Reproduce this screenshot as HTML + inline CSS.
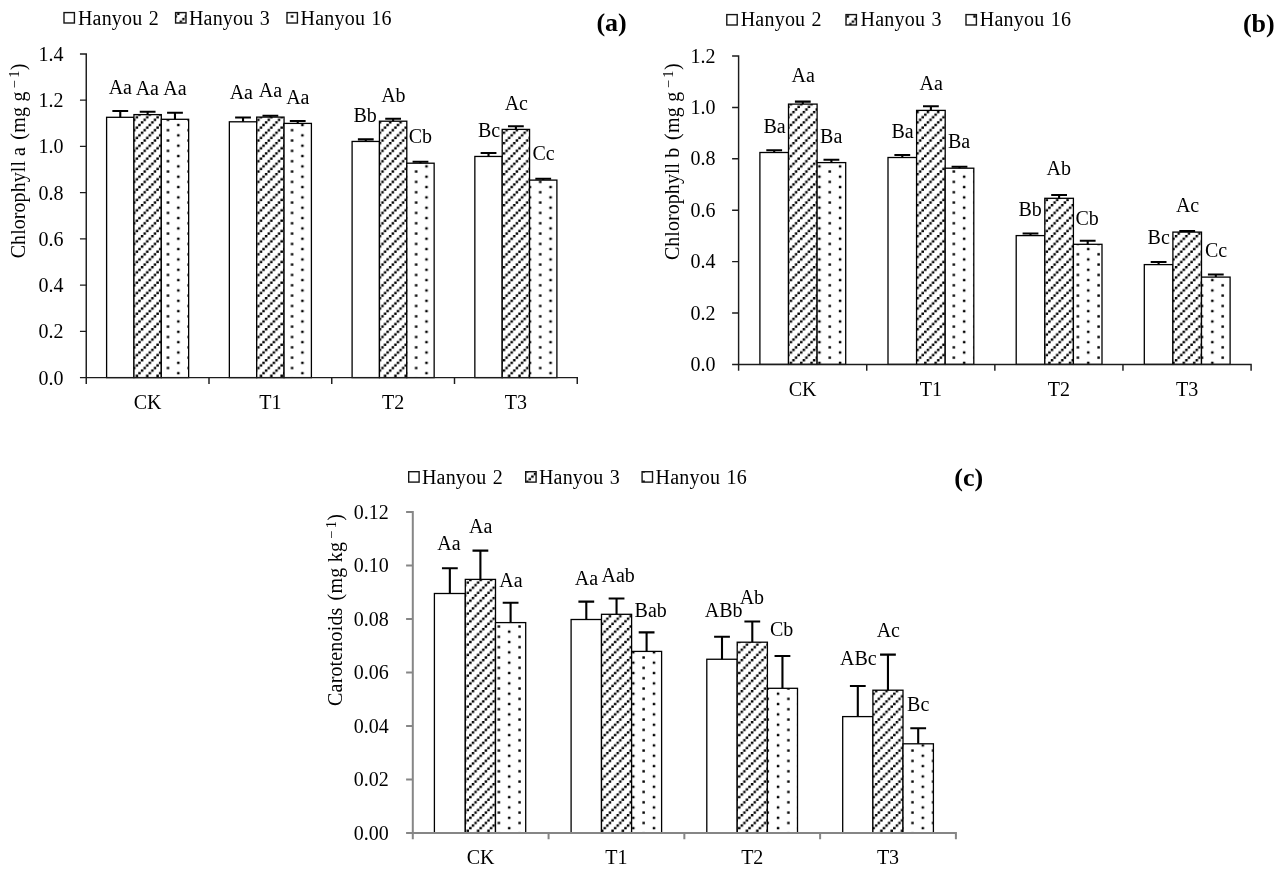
<!DOCTYPE html>
<html lang="en"><head><meta charset="utf-8"><title>Pigment contents of three Hanyou cultivars</title>
<style>html,body{margin:0;padding:0;background:#fff}body{width:1280px;height:870px;overflow:hidden}svg{display:block;position:absolute;left:0;top:0}svg text{font-family:'Liberation Serif', 'DejaVu Serif', serif;font-size:20px;fill:#000}</style></head><body>
<svg width="1280" height="870" viewBox="0 0 1280 870">
<defs>
<pattern id="hatch" patternUnits="userSpaceOnUse" x="0" y="0" width="10.34" height="10.34">
<rect x="0" y="0" width="10.34" height="10.34" fill="#fff"/>
<g fill="#000">
<rect x="3.85" y="-0.25" width="2.45" height="2.45" rx="0.1"/>
<rect x="3.85" y="10.1" width="2.45" height="2.45" rx="0.1"/>
<rect x="1.27" y="2.34" width="2.45" height="2.45" rx="0.1"/>
<rect x="-1.31" y="4.93" width="2.45" height="2.45" rx="0.1"/>
<rect x="9.03" y="4.93" width="2.45" height="2.45" rx="0.1"/>
<rect x="6.44" y="-2.83" width="2.45" height="2.45" rx="0.1"/>
<rect x="6.44" y="7.51" width="2.45" height="2.45" rx="0.1"/>
</g></pattern>
<pattern id="dots" patternUnits="userSpaceOnUse" x="0" y="0" width="20.68" height="10.34">
<rect x="0" y="0" width="20.68" height="10.34" fill="#fff"/>
<g fill="#000">
<rect x="1.31" y="4.9" width="2.5" height="2.5" rx="0.25"/>
<rect x="11.65" y="-0.27" width="2.5" height="2.5" rx="0.25"/>
<rect x="11.65" y="10.07" width="2.5" height="2.5" rx="0.25"/>
</g></pattern>
</defs>
<rect x="0" y="0" width="1280" height="870" fill="#fff"/>
<g id="chart-a">
<g stroke="#000" stroke-width="1.3">
<rect x="106.6" y="117.3" width="27.35" height="260.3" fill="#fff"/>
<rect x="133.95" y="114.6" width="27.35" height="263" fill="url(#hatch)"/>
<rect x="161.3" y="119.3" width="27.35" height="258.3" fill="url(#dots)"/>
<rect x="229.35" y="121.8" width="27.35" height="255.8" fill="#fff"/>
<rect x="256.7" y="117.1" width="27.35" height="260.5" fill="url(#hatch)"/>
<rect x="284.05" y="123.4" width="27.35" height="254.2" fill="url(#dots)"/>
<rect x="352.1" y="141.45" width="27.35" height="236.15" fill="#fff"/>
<rect x="379.45" y="121.2" width="27.35" height="256.4" fill="url(#hatch)"/>
<rect x="406.8" y="163.2" width="27.35" height="214.4" fill="url(#dots)"/>
<rect x="474.85" y="156.45" width="27.35" height="221.15" fill="#fff"/>
<rect x="502.2" y="129.4" width="27.35" height="248.2" fill="url(#hatch)"/>
<rect x="529.55" y="180.1" width="27.35" height="197.5" fill="url(#dots)"/>
</g>
<g stroke="#000" stroke-width="2.1" fill="none">
<path d="M112.37 111H128.17M120.27 111V117.3"/>
<path d="M139.72 111.8H155.53M147.62 111.8V114.6"/>
<path d="M167.07 112.8H182.88M174.97 112.8V119.3"/>
<path d="M235.12 117.5H250.93M243.03 117.5V121.8"/>
<path d="M262.48 115.7H278.27M270.38 115.7V117.1"/>
<path d="M289.83 121H305.62M297.73 121V123.4"/>
<path d="M357.88 139.4H373.68M365.78 139.4V141.45"/>
<path d="M385.23 118.8H401.02M393.12 118.8V121.2"/>
<path d="M412.58 161.8H428.38M420.48 161.8V163.2"/>
<path d="M480.63 153H496.43M488.53 153V156.45"/>
<path d="M507.98 126.3H523.77M515.88 126.3V129.4"/>
<path d="M535.33 178.8H551.12M543.23 178.8V180.1"/>
</g>
<path d="M86.25 53.17V383.9M79.95 377.6H577.98M79.95 331.36H86.25M79.95 285.11H86.25M79.95 238.87H86.25M79.95 192.63H86.25M79.95 146.39H86.25M79.95 100.14H86.25M79.95 53.9H86.25M209 377.6V383.9M331.75 377.6V383.9M454.5 377.6V383.9M577.25 377.6V383.9" stroke="#1c1c1c" stroke-width="1.45" fill="none"/>
<g text-anchor="end">
<text x="63.6" y="384.6">0.0</text>
<text x="63.6" y="338.36">0.2</text>
<text x="63.6" y="292.11">0.4</text>
<text x="63.6" y="245.87">0.6</text>
<text x="63.6" y="199.63">0.8</text>
<text x="63.6" y="153.39">1.0</text>
<text x="63.6" y="107.14">1.2</text>
<text x="63.6" y="60.9">1.4</text>
</g>
<g text-anchor="middle">
<text x="147.62" y="408.9">CK</text>
<text x="270.38" y="408.9">T1</text>
<text x="393.12" y="408.9">T2</text>
<text x="515.88" y="408.9">T3</text>
</g>
<g text-anchor="middle">
<text x="120.3" y="93.5">Aa</text>
<text x="147.3" y="94.6">Aa</text>
<text x="175" y="95">Aa</text>
<text x="241.3" y="98.5">Aa</text>
<text x="270.4" y="97">Aa</text>
<text x="297.8" y="103.6">Aa</text>
<text x="365.2" y="121.5">Bb</text>
<text x="393.4" y="101.5">Ab</text>
<text x="420.3" y="142.7">Cb</text>
<text x="489" y="136.7">Bc</text>
<text x="516.3" y="109.8">Ac</text>
<text x="543.6" y="160.2">Cc</text>
</g>
<rect x="64" y="12.6" width="10.4" height="10.4" fill="#fff" stroke="#151515" stroke-width="1.4"/>
<text x="77.9" y="24.9" style="letter-spacing:0.22px;word-spacing:1px">Hanyou 2</text>
<rect x="175.6" y="12.6" width="10.4" height="10.4" fill="url(#hatch)" stroke="#151515" stroke-width="1.4"/>
<text x="188.9" y="24.9" style="letter-spacing:0.22px;word-spacing:1px">Hanyou 3</text>
<rect x="287" y="12.6" width="10.4" height="10.4" fill="url(#dots)" stroke="#151515" stroke-width="1.4"/>
<text x="300.5" y="24.9" style="letter-spacing:0.22px;word-spacing:1px">Hanyou 16</text>
<text x="596.4" y="31" style="font-size:26px;font-weight:bold">(a)</text>
<g transform="translate(24.6 258.6) rotate(-90)">
<text x="0.3" y="0" style="letter-spacing:0.06px">Chlorophyll a</text>
<text x="118.85" y="0" style="letter-spacing:0.25px">(mg g</text>
<text x="170.2" y="0" style="font-size:14.5px;letter-spacing:2.4px" dy="-5.7">−1</text>
<text x="188.4" y="0">)</text>
</g>
</g>
<g id="chart-b">
<g stroke="#000" stroke-width="1.3">
<rect x="759.9" y="152.5" width="28.6" height="211.9" fill="#fff"/>
<rect x="788.5" y="104.1" width="28.6" height="260.3" fill="url(#hatch)"/>
<rect x="817.1" y="162.6" width="28.6" height="201.8" fill="url(#dots)"/>
<rect x="888" y="157.5" width="28.6" height="206.9" fill="#fff"/>
<rect x="916.6" y="110.4" width="28.6" height="254" fill="url(#hatch)"/>
<rect x="945.2" y="168.2" width="28.6" height="196.2" fill="url(#dots)"/>
<rect x="1016.2" y="235.6" width="28.6" height="128.8" fill="#fff"/>
<rect x="1044.8" y="198.3" width="28.6" height="166.1" fill="url(#hatch)"/>
<rect x="1073.4" y="244.3" width="28.6" height="120.1" fill="url(#dots)"/>
<rect x="1144.3" y="264.6" width="28.6" height="99.8" fill="#fff"/>
<rect x="1172.9" y="232.1" width="28.6" height="132.3" fill="url(#hatch)"/>
<rect x="1201.5" y="277.1" width="28.6" height="87.3" fill="url(#dots)"/>
</g>
<g stroke="#000" stroke-width="2.1" fill="none">
<path d="M766.3 150.2H782.1M774.2 150.2V152.5"/>
<path d="M794.9 101.65H810.7M802.8 101.65V104.1"/>
<path d="M823.5 159.8H839.3M831.4 159.8V162.6"/>
<path d="M894.4 155H910.2M902.3 155V157.5"/>
<path d="M923 106.2H938.8M930.9 106.2V110.4"/>
<path d="M951.6 166.7H967.4M959.5 166.7V168.2"/>
<path d="M1022.6 233.5H1038.4M1030.5 233.5V235.6"/>
<path d="M1051.2 195.05H1067M1059.1 195.05V198.3"/>
<path d="M1079.8 240.7H1095.6M1087.7 240.7V244.3"/>
<path d="M1150.7 262H1166.5M1158.6 262V264.6"/>
<path d="M1179.3 231H1195.1M1187.2 231V232.1"/>
<path d="M1207.9 274.5H1223.7M1215.8 274.5V277.1"/>
</g>
<path d="M738.6 55.27V370.8M732.1 364.4H1251.82M732.1 313H738.6M732.1 261.6H738.6M732.1 210.2H738.6M732.1 158.8H738.6M732.1 107.4H738.6M732.1 56H738.6M866.73 364.4V370.8M994.85 364.4V370.8M1122.97 364.4V370.8M1251.1 364.4V370.8" stroke="#1c1c1c" stroke-width="1.45" fill="none"/>
<g text-anchor="end">
<text x="715.6" y="370.9">0.0</text>
<text x="715.6" y="319.5">0.2</text>
<text x="715.6" y="268.1">0.4</text>
<text x="715.6" y="216.7">0.6</text>
<text x="715.6" y="165.3">0.8</text>
<text x="715.6" y="113.9">1.0</text>
<text x="715.6" y="62.5">1.2</text>
</g>
<g text-anchor="middle">
<text x="802.66" y="395.5">CK</text>
<text x="930.79" y="395.5">T1</text>
<text x="1058.91" y="395.5">T2</text>
<text x="1187.04" y="395.5">T3</text>
</g>
<g text-anchor="middle">
<text x="774.5" y="132.5">Ba</text>
<text x="803.2" y="82.4">Aa</text>
<text x="831.2" y="142.6">Ba</text>
<text x="902.6" y="137.5">Ba</text>
<text x="931.2" y="90.4">Aa</text>
<text x="959.1" y="147.6">Ba</text>
<text x="1030.1" y="215.5">Bb</text>
<text x="1058.7" y="174.7">Ab</text>
<text x="1087.2" y="224.6">Cb</text>
<text x="1158.7" y="244.2">Bc</text>
<text x="1187.6" y="211.9">Ac</text>
<text x="1216" y="257.1">Cc</text>
</g>
<rect x="726.8" y="14.6" width="10.4" height="10.4" fill="#fff" stroke="#151515" stroke-width="1.4"/>
<text x="740.7" y="25.8" style="letter-spacing:0.22px;word-spacing:1px">Hanyou 2</text>
<rect x="846" y="14.6" width="10.4" height="10.4" fill="url(#hatch)" stroke="#151515" stroke-width="1.4"/>
<text x="860.6" y="25.8" style="letter-spacing:0.22px;word-spacing:1px">Hanyou 3</text>
<rect x="966" y="14.6" width="10.4" height="10.4" fill="url(#dots)" stroke="#151515" stroke-width="1.4"/>
<text x="979.8" y="25.8" style="letter-spacing:0.22px;word-spacing:1px">Hanyou 16</text>
<text x="1242.9" y="32.2" style="font-size:26px;font-weight:bold">(b)</text>
<g transform="translate(678.8 260.4) rotate(-90)">
<text x="0.3" y="0" style="letter-spacing:0.06px">Chlorophyll b</text>
<text x="120.5" y="0" style="letter-spacing:0.25px">(mg g</text>
<text x="172.1" y="0" style="font-size:14.5px;letter-spacing:2.4px" dy="-5.7">−1</text>
<text x="190.3" y="0">)</text>
</g>
</g>
<g id="chart-c">
<g stroke="#000" stroke-width="1.3">
<rect x="434.4" y="593.5" width="30.9" height="239.5" fill="#fff"/>
<rect x="465.3" y="579.4" width="30.2" height="253.6" fill="url(#hatch)"/>
<rect x="495.5" y="622.6" width="30.2" height="210.4" fill="url(#dots)"/>
<rect x="571.1" y="619.5" width="30.4" height="213.5" fill="#fff"/>
<rect x="601.5" y="614.3" width="30.1" height="218.7" fill="url(#hatch)"/>
<rect x="631.6" y="651.4" width="30" height="181.6" fill="url(#dots)"/>
<rect x="706.8" y="659.25" width="30.4" height="173.75" fill="#fff"/>
<rect x="737.2" y="642.2" width="30.2" height="190.8" fill="url(#hatch)"/>
<rect x="767.4" y="688.3" width="30.1" height="144.7" fill="url(#dots)"/>
<rect x="842.7" y="716.6" width="30.2" height="116.4" fill="#fff"/>
<rect x="872.9" y="690.2" width="30.1" height="142.8" fill="url(#hatch)"/>
<rect x="903" y="743.8" width="30.4" height="89.2" fill="url(#dots)"/>
</g>
<g stroke="#000" stroke-width="2.1" fill="none">
<path d="M441.95 568.2H457.75M449.85 568.2V593.5"/>
<path d="M472.5 550.6H488.3M480.4 550.6V579.4"/>
<path d="M502.7 602.8H518.5M510.6 602.8V622.6"/>
<path d="M578.4 601.65H594.2M586.3 601.65V619.5"/>
<path d="M608.65 598.5H624.45M616.55 598.5V614.3"/>
<path d="M638.7 632.4H654.5M646.6 632.4V651.4"/>
<path d="M714.1 636.7H729.9M722 636.7V659.25"/>
<path d="M744.4 621.5H760.2M752.3 621.5V642.2"/>
<path d="M774.55 656H790.35M782.45 656V688.3"/>
<path d="M849.9 686H865.7M857.8 686V716.6"/>
<path d="M880.05 654.6H895.85M887.95 654.6V690.2"/>
<path d="M910.3 728.3H926.1M918.2 728.3V743.8"/>
</g>
<path d="M412.8 511V839.3M406.1 833H956.9M406.1 779.5H412.8M406.1 726H412.8M406.1 672.5H412.8M406.1 619H412.8M406.1 565.5H412.8M406.1 512H412.8M548.58 833V839.3M684.35 833V839.3M820.12 833V839.3M955.9 833V839.3" stroke="#868686" stroke-width="2" fill="none"/>
<g text-anchor="end">
<text x="388.7" y="839.5">0.00</text>
<text x="388.7" y="786">0.02</text>
<text x="388.7" y="732.5">0.04</text>
<text x="388.7" y="679">0.06</text>
<text x="388.7" y="625.5">0.08</text>
<text x="388.7" y="572">0.10</text>
<text x="388.7" y="518.5">0.12</text>
</g>
<g text-anchor="middle">
<text x="480.69" y="863.6">CK</text>
<text x="616.46" y="863.6">T1</text>
<text x="752.24" y="863.6">T2</text>
<text x="888.01" y="863.6">T3</text>
</g>
<g text-anchor="middle">
<text x="449" y="549.8">Aa</text>
<text x="480.7" y="532.7">Aa</text>
<text x="511" y="586.6">Aa</text>
<text x="586.4" y="585.3">Aa</text>
<text x="618.2" y="582.1">Aab</text>
<text x="650.7" y="617.1">Bab</text>
<text x="723.6" y="617.2">ABb</text>
<text x="751.9" y="604.3">Ab</text>
<text x="781.7" y="636.4">Cb</text>
<text x="858.3" y="664.5">ABc</text>
<text x="888.3" y="636.5">Ac</text>
<text x="918.2" y="711.1">Bc</text>
</g>
<rect x="408.7" y="471.7" width="10.4" height="10.4" fill="#fff" stroke="#151515" stroke-width="1.4"/>
<text x="421.9" y="483.5" style="letter-spacing:0.22px;word-spacing:1px">Hanyou 2</text>
<rect x="525.7" y="471.7" width="10.4" height="10.4" fill="url(#hatch)" stroke="#151515" stroke-width="1.4"/>
<text x="538.9" y="483.5" style="letter-spacing:0.22px;word-spacing:1px">Hanyou 3</text>
<rect x="642.1" y="471.7" width="10.4" height="10.4" fill="url(#dots)" stroke="#151515" stroke-width="1.4"/>
<text x="655.6" y="483.5" style="letter-spacing:0.22px;word-spacing:1px">Hanyou 16</text>
<text x="954.3" y="486.3" style="font-size:26px;font-weight:bold">(c)</text>
<g transform="translate(341.7 705.9) rotate(-90)">
<text x="0" y="0" style="letter-spacing:0.16px">Carotenoids</text>
<text x="105.4" y="0" style="letter-spacing:0.25px">(mg kg</text>
<text x="167" y="0" style="font-size:14.5px;letter-spacing:2.4px" dy="-5.7">−1</text>
<text x="185.2" y="0">)</text>
</g>
</g>
</svg>
</body></html>
